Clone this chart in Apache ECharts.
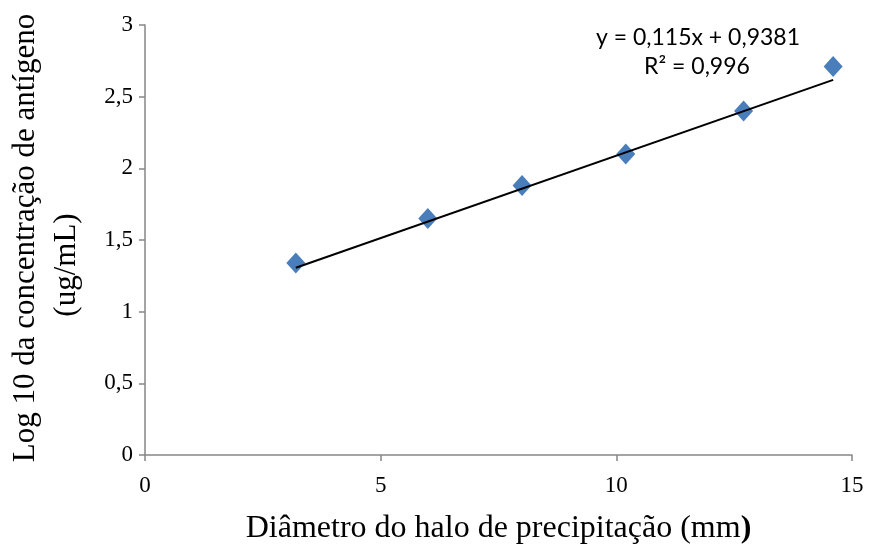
<!DOCTYPE html>
<html>
<head>
<meta charset="utf-8">
<script src="https://cdn.jsdelivr.net/npm/echarts@6/dist/echarts.min.js"></script>
<style>
  html, body { margin: 0; padding: 0; background: #fff; }
  #chart { width: 870px; height: 546px; }
</style>
</head>
<body>
<div id="chart"></div>
<script>
// Diâmetro do halo (mm) e log10 da concentração de antígeno
var diametro = [3.2, 6.0, 8.0, 10.2, 12.7, 14.6];
var logConc = [1.34, 1.65, 1.88, 2.10, 2.40, 2.71];

// Linha de tendência linear: y = a·x + b
var trendCoef = [0.115, 0.9381];
var r2 = '0,996';

var xTicks = [0, 5, 10, 15];
var yTicks = [0, 0.5, 1, 1.5, 2, 2.5, 3];

var yTitle = ['Log 10 da concentração de antígeno', '(ug/mL)'];

var fmt = function (v) { return String(v).replace('.', ','); };

var pontos = diametro.map(function (x, i) { return [x, logConc[i]]; });
var xMin = Math.min.apply(null, diametro);
var xMax = Math.max.apply(null, diametro);
var tendencia = [xMin, xMax].map(function (x) { return [x, trendCoef[0] * x + trendCoef[1]]; });

var axisColor = '#868686';
var serif = '"Liberation Serif", "Times New Roman", serif';
var eqFont = '23px Lato, "Open Sans", sans-serif';
var titleFont = '31px "Liberation Serif", "Times New Roman", serif';

var chart = echarts.init(document.getElementById('chart'));
chart.setOption({
  backgroundColor: '#fff',
  animation: false,
  grid: { left: 145, right: 18, top: 25, bottom: 91, containLabel: false, outerBoundsMode: 'none' },
  xAxis: {
    type: 'value',
    min: xTicks[0], max: xTicks[xTicks.length - 1], interval: 5,
    axisLine: { lineStyle: { color: axisColor, width: 1.5 } },
    axisTick: { show: true, length: 6, lineStyle: { color: axisColor, width: 1.5 } },
    splitLine: { show: false },
    axisLabel: { color: '#000', fontFamily: serif, fontSize: 23, margin: 19, formatter: fmt },
    name: 'Diâmetro do halo de precipitação (mm{b|)}',
    nameLocation: 'middle',
    nameGap: 58,
    nameTextStyle: {
      color: '#000', fontFamily: serif, fontSize: 32,
      rich: { b: { fontFamily: serif, fontSize: 32, fontWeight: 'bold', color: '#000' } }
    }
  },
  yAxis: {
    type: 'value',
    min: yTicks[0], max: yTicks[yTicks.length - 1], interval: 0.5,
    axisLine: { show: true, lineStyle: { color: axisColor, width: 1.5 } },
    axisTick: { show: true, length: 6, lineStyle: { color: axisColor, width: 1.5 } },
    splitLine: { show: false },
    axisLabel: { color: '#000', fontFamily: serif, fontSize: 23, margin: 12, formatter: fmt }
  },
  graphic: [
    {
      type: 'text', x: 26, y: 238, rotation: Math.PI / 2,
      style: { text: yTitle[0], fill: '#000', font: titleFont, align: 'center', verticalAlign: 'middle' }
    },
    {
      type: 'text', x: 67, y: 265, rotation: Math.PI / 2,
      style: { text: yTitle[1], fill: '#000', font: titleFont, align: 'center', verticalAlign: 'middle' }
    },
    {
      type: 'text', x: 698, y: 26,
      style: { text: 'y = 0,115x + 0,9381', fill: '#000', font: eqFont, align: 'center' }
    },
    {
      type: 'text', x: 697, y: 55,
      style: { text: 'R² = ' + r2, fill: '#000', font: eqFont, align: 'center' }
    }
  ],
  series: [
    {
      type: 'line',
      data: tendencia,
      showSymbol: false,
      symbol: 'none',
      lineStyle: { color: '#000', width: 2 },
      z: 3,
      silent: true
    },
    {
      type: 'scatter',
      data: pontos,
      symbol: 'diamond',
      symbolSize: [19, 21],
      itemStyle: { color: '#4A7EBB', opacity: 1 },
      z: 2
    }
  ]
});
</script>
</body>
</html>
